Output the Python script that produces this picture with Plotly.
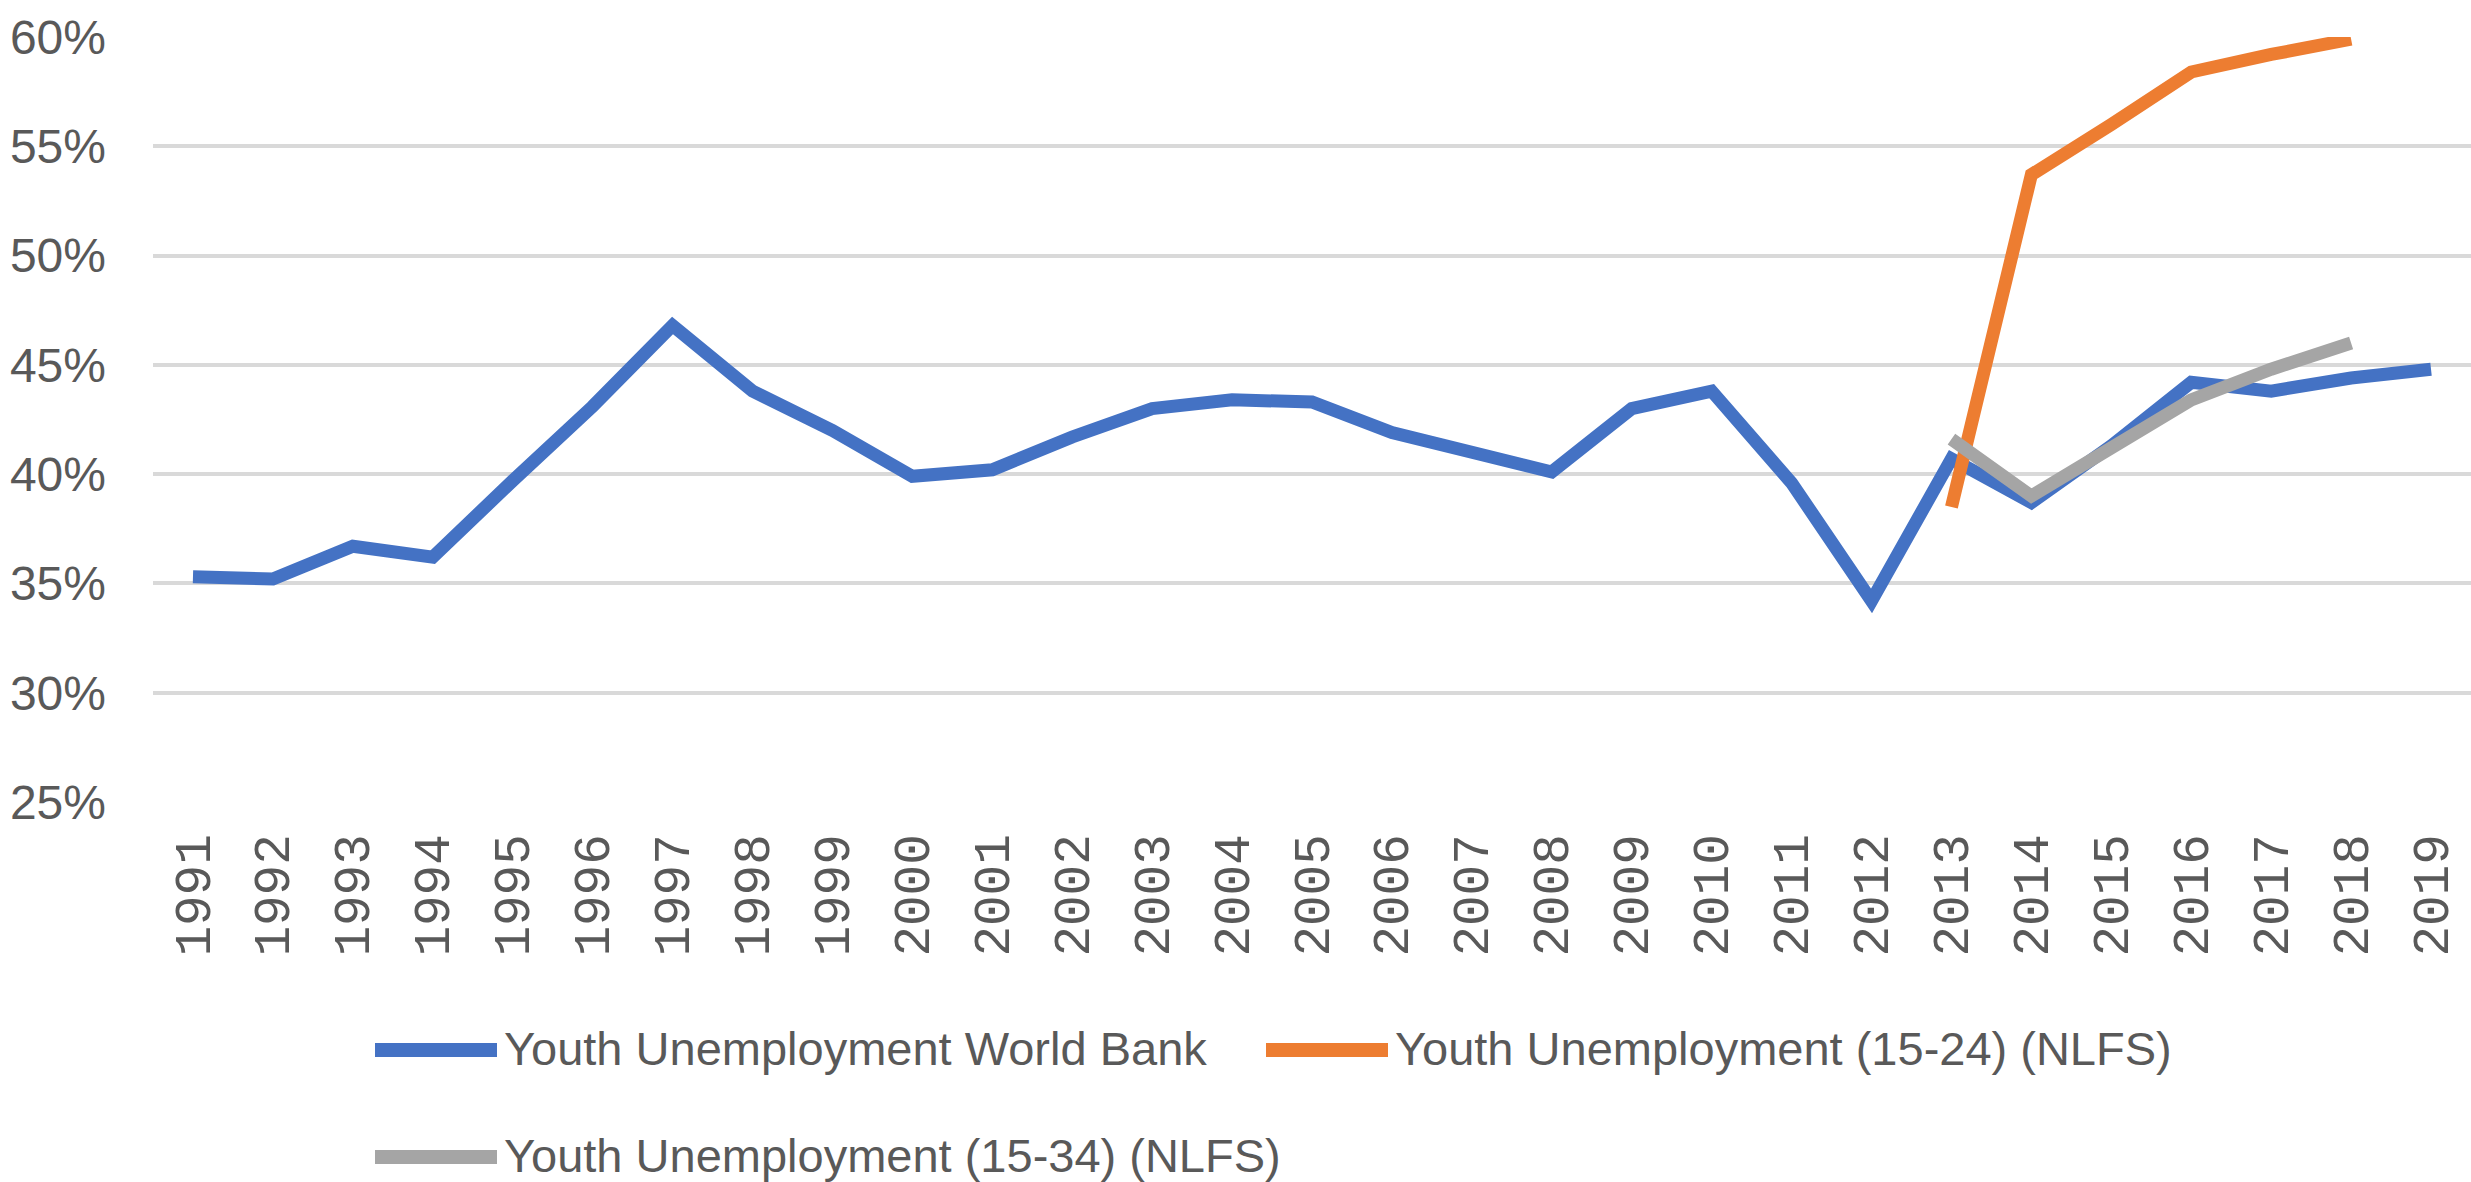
import plotly.graph_objects as go

# Years on the category axis
years = [str(y) for y in range(1991, 2020)]

# Youth unemployment rates (%)
world_bank = [35.3, 35.2, 36.7, 36.2, 39.7, 43.1, 46.8, 43.8, 42.0, 39.9,
              40.2, 41.7, 43.0, 43.4, 43.3, 41.9, 41.0, 40.1, 43.0, 43.8,
              39.6, 34.2, 40.7, 38.7, 41.3, 44.2, 43.8, 44.4, 44.8]
nlfs_years = ["2013", "2014", "2015", "2016", "2017", "2018"]
nlfs_15_24 = [38.5, 53.7, 56.0, 58.4, 59.2, 59.9]
nlfs_15_34 = [41.6, 39.0, 41.2, 43.4, 44.8, 46.0]

series_names = ["Youth Unemployment World Bank",
                "Youth Unemployment (15-24) (NLFS)",
                "Youth Unemployment (15-34) (NLFS)"]
series_colors = ["#4472C4", "#ED7D31", "#A5A5A5"]

y_ticks = [25, 30, 35, 40, 45, 50, 55, 60]

W, H = 2471, 1182
L, R, T, B = 153, 0, 37, 380
TEXT = "#595959"

fig = go.Figure()
for name, xs, ys, col in zip(series_names,
                             [years, nlfs_years, nlfs_years],
                             [world_bank, nlfs_15_24, nlfs_15_34],
                             series_colors):
    fig.add_trace(go.Scatter(x=xs, y=ys, mode="lines", name=name,
                             line=dict(color=col, width=13),
                             showlegend=False))

# Legend drawn below the plot: long line swatches followed by labels
plot_w = W - L - R
plot_h = H - T - B


def px_x(x):
    return (x - L) / plot_w


def px_y(y):
    return (H - B - y) / plot_h


legend_items = [(375, 1050), (1266, 1050), (375, 1157)]
for (x0, y0), name, col in zip(legend_items, series_names, series_colors):
    fig.add_shape(type="line", xref="paper", yref="paper",
                  x0=px_x(x0), x1=px_x(x0 + 122), y0=px_y(y0), y1=px_y(y0),
                  line=dict(color=col, width=14))
    fig.add_annotation(xref="paper", yref="paper", x=px_x(x0 + 127),
                       y=px_y(y0 - 2), text=name, showarrow=False,
                       xanchor="left", yanchor="middle",
                       font=dict(family="Liberation Sans, Arial",
                                 size=47, color=TEXT))

fig.update_layout(
    width=W, height=H,
    margin=dict(l=L, r=R, t=T, b=B, autoexpand=False),
    paper_bgcolor="white", plot_bgcolor="white",
    showlegend=False,
    xaxis=dict(type="category", categoryorder="array", categoryarray=years,
               range=[-0.5, len(years) - 0.5], tickangle=-90,
               showgrid=False, showline=False, zeroline=False, ticks="",
               automargin=False, ticklabelstandoff=21,
               tickfont=dict(family="Liberation Mono, Courier New, monospace",
                             size=51, color=TEXT)),
    yaxis=dict(range=[25, 60], tickvals=y_ticks,
               ticktext=[f"{v}%" for v in y_ticks],
               showgrid=True, gridcolor="#D9D9D9", gridwidth=4,
               zeroline=False, showline=False, ticks="",
               automargin=False, ticklabelstandoff=46,
               tickfont=dict(family="Liberation Sans, Arial",
                             size=48, color=TEXT)),
)

fig.write_html("out.html")
